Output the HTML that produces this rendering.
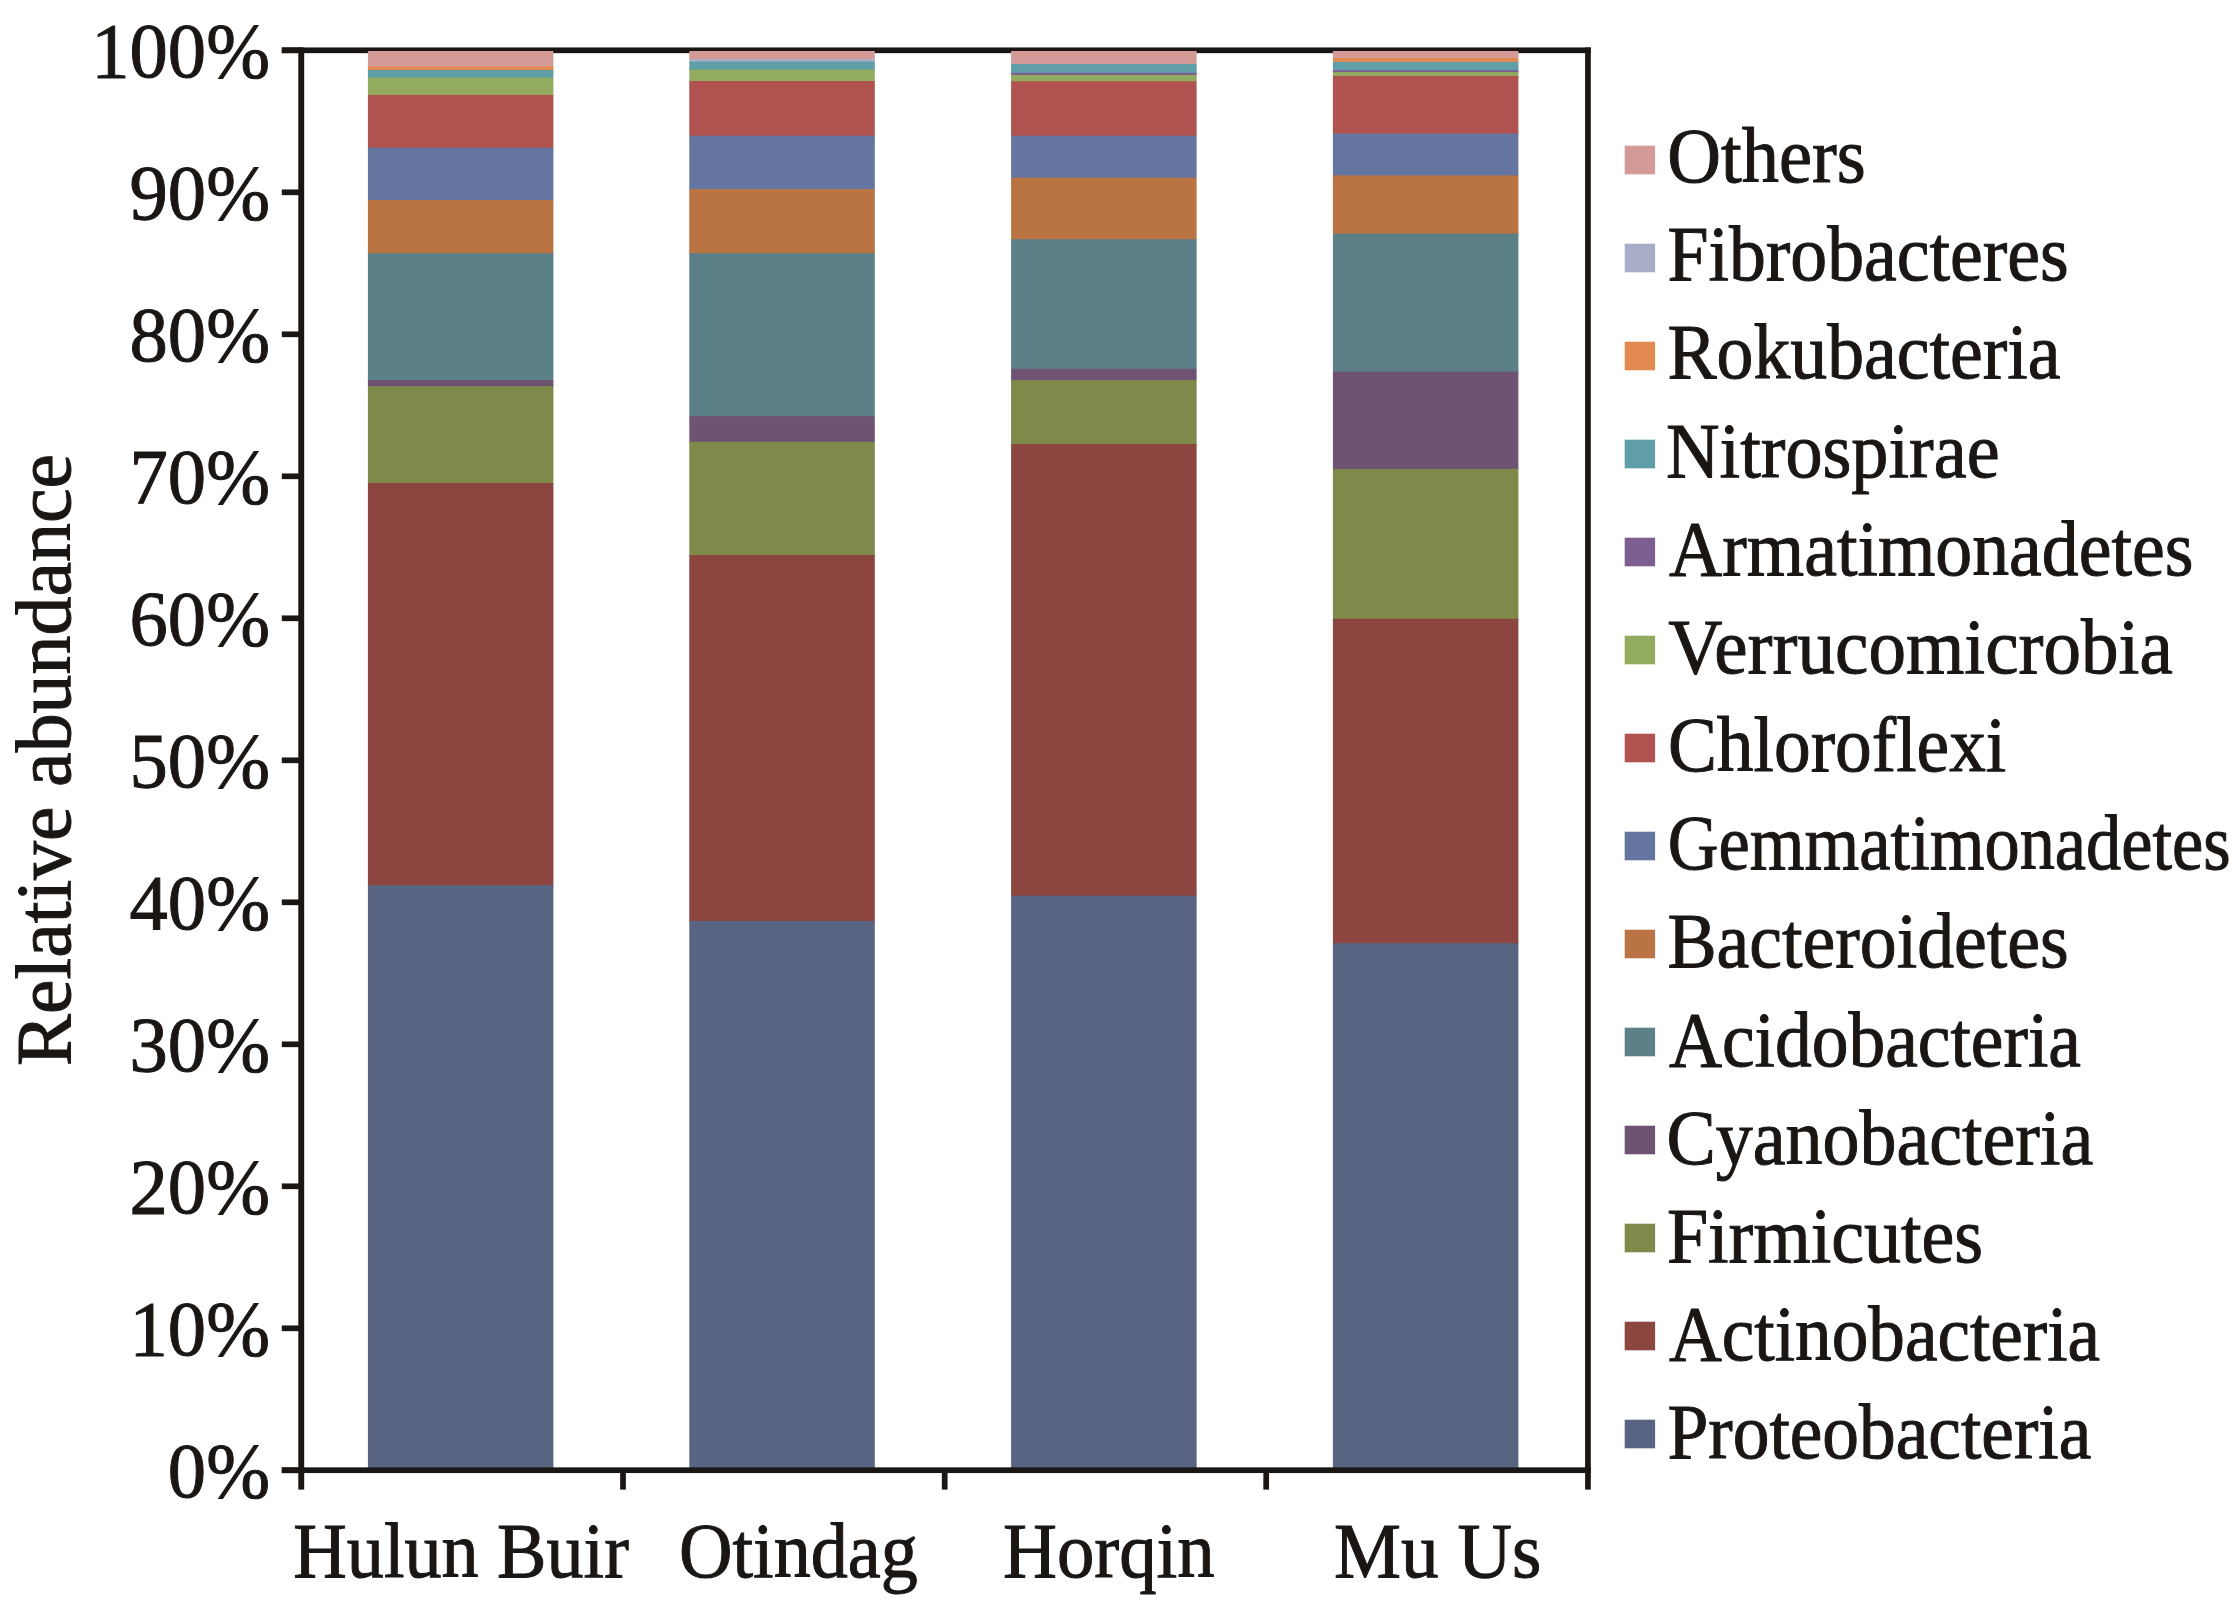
<!DOCTYPE html><html><head><meta charset="utf-8"><style>html,body{margin:0;padding:0;background:#fff;}body{width:2233px;height:1607px;overflow:hidden;}svg{display:block;}text{font-family:"Liberation Serif",serif;fill:#1a1614;}</style></head><body>
<svg width="2233" height="1607" viewBox="0 0 2233 1607">
<rect width="2233" height="1607" fill="#fff"/>
<rect x="281.8" y="47.45" width="1309.00" height="5.70" fill="#1a1614"/>
<rect x="367.90" y="51.00" width="185.50" height="16.50" fill="#d39a98"/>
<rect x="367.90" y="66.50" width="185.50" height="4.50" fill="#e38a52"/>
<rect x="367.90" y="70.00" width="185.50" height="8.70" fill="#5f9ea6"/>
<rect x="367.90" y="77.70" width="185.50" height="18.20" fill="#93ab5e"/>
<rect x="367.90" y="94.90" width="185.50" height="53.80" fill="#b05350"/>
<rect x="367.90" y="147.70" width="185.50" height="53.30" fill="#64759f"/>
<rect x="367.90" y="200.00" width="185.50" height="54.20" fill="#ba7443"/>
<rect x="367.90" y="253.20" width="185.50" height="127.90" fill="#5b8088"/>
<rect x="367.90" y="380.10" width="185.50" height="7.10" fill="#6e5372"/>
<rect x="367.90" y="386.20" width="185.50" height="97.80" fill="#7f8a4a"/>
<rect x="367.90" y="483.00" width="185.50" height="403.10" fill="#8c453f"/>
<rect x="367.90" y="885.10" width="185.50" height="585.10" fill="#586482"/>
<rect x="689.30" y="51.00" width="185.50" height="9.00" fill="#d39a98"/>
<rect x="689.30" y="59.00" width="185.50" height="3.70" fill="#a9adc7"/>
<rect x="689.30" y="61.70" width="185.50" height="9.00" fill="#5f9ea6"/>
<rect x="689.30" y="69.70" width="185.50" height="12.30" fill="#93ab5e"/>
<rect x="689.30" y="81.00" width="185.50" height="55.70" fill="#b05350"/>
<rect x="689.30" y="135.70" width="185.50" height="54.30" fill="#64759f"/>
<rect x="689.30" y="189.00" width="185.50" height="65.20" fill="#ba7443"/>
<rect x="689.30" y="253.20" width="185.50" height="164.00" fill="#5b8088"/>
<rect x="689.30" y="416.20" width="185.50" height="26.60" fill="#6e5372"/>
<rect x="689.30" y="441.80" width="185.50" height="114.20" fill="#7f8a4a"/>
<rect x="689.30" y="555.00" width="185.50" height="366.90" fill="#8c453f"/>
<rect x="689.30" y="920.90" width="185.50" height="549.30" fill="#586482"/>
<rect x="1011.10" y="51.00" width="185.50" height="13.90" fill="#d39a98"/>
<rect x="1011.10" y="63.90" width="185.50" height="9.90" fill="#5f9ea6"/>
<rect x="1011.10" y="72.80" width="185.50" height="3.20" fill="#7c5e93"/>
<rect x="1011.10" y="75.00" width="185.50" height="7.20" fill="#93ab5e"/>
<rect x="1011.10" y="81.20" width="185.50" height="55.50" fill="#b05350"/>
<rect x="1011.10" y="135.70" width="185.50" height="43.00" fill="#64759f"/>
<rect x="1011.10" y="177.70" width="185.50" height="62.50" fill="#ba7443"/>
<rect x="1011.10" y="239.20" width="185.50" height="130.60" fill="#5b8088"/>
<rect x="1011.10" y="368.80" width="185.50" height="12.30" fill="#6e5372"/>
<rect x="1011.10" y="380.10" width="185.50" height="64.90" fill="#7f8a4a"/>
<rect x="1011.10" y="444.00" width="185.50" height="452.60" fill="#8c453f"/>
<rect x="1011.10" y="895.60" width="185.50" height="574.60" fill="#586482"/>
<rect x="1332.90" y="51.00" width="185.50" height="8.00" fill="#d39a98"/>
<rect x="1332.90" y="58.00" width="185.50" height="4.90" fill="#e38a52"/>
<rect x="1332.90" y="61.90" width="185.50" height="9.30" fill="#5f9ea6"/>
<rect x="1332.90" y="70.20" width="185.50" height="2.90" fill="#7c5e93"/>
<rect x="1332.90" y="72.10" width="185.50" height="4.90" fill="#93ab5e"/>
<rect x="1332.90" y="76.00" width="185.50" height="58.50" fill="#b05350"/>
<rect x="1332.90" y="133.50" width="185.50" height="42.90" fill="#64759f"/>
<rect x="1332.90" y="175.40" width="185.50" height="59.20" fill="#ba7443"/>
<rect x="1332.90" y="233.60" width="185.50" height="139.10" fill="#5b8088"/>
<rect x="1332.90" y="371.70" width="185.50" height="98.20" fill="#6e5372"/>
<rect x="1332.90" y="468.90" width="185.50" height="150.90" fill="#7f8a4a"/>
<rect x="1332.90" y="618.80" width="185.50" height="325.40" fill="#8c453f"/>
<rect x="1332.90" y="943.20" width="185.50" height="527.00" fill="#586482"/>
<rect x="298.3" y="47.5" width="5.9" height="1442.10" fill="#1a1614"/>
<rect x="1585.1" y="47.5" width="5.7" height="1442.10" fill="#1a1614"/>
<rect x="281.8" y="1467.35" width="1309.00" height="5.70" fill="#1a1614"/>
<rect x="281.8" y="47.45" width="20" height="5.70" fill="#1a1614"/>
<rect x="281.8" y="189.45" width="20" height="5.70" fill="#1a1614"/>
<rect x="281.8" y="331.45" width="20" height="5.70" fill="#1a1614"/>
<rect x="281.8" y="473.45" width="20" height="5.70" fill="#1a1614"/>
<rect x="281.8" y="615.45" width="20" height="5.70" fill="#1a1614"/>
<rect x="281.8" y="757.45" width="20" height="5.70" fill="#1a1614"/>
<rect x="281.8" y="899.45" width="20" height="5.70" fill="#1a1614"/>
<rect x="281.8" y="1041.45" width="20" height="5.70" fill="#1a1614"/>
<rect x="281.8" y="1183.45" width="20" height="5.70" fill="#1a1614"/>
<rect x="281.8" y="1325.45" width="20" height="5.70" fill="#1a1614"/>
<rect x="281.8" y="1467.45" width="20" height="5.70" fill="#1a1614"/>
<rect x="620.15" y="1470" width="5.7" height="19.6" fill="#1a1614"/>
<rect x="941.85" y="1470" width="5.7" height="19.6" fill="#1a1614"/>
<rect x="1263.35" y="1470" width="5.7" height="19.6" fill="#1a1614"/>
<g stroke="#1a1614" stroke-width="1.0">
<text transform="translate(270,77.10) scale(0.974,1)" font-size="78.7" text-anchor="end">100%</text>
<text transform="translate(270,219.10) scale(0.974,1)" font-size="78.7" text-anchor="end">90%</text>
<text transform="translate(270,361.10) scale(0.974,1)" font-size="78.7" text-anchor="end">80%</text>
<text transform="translate(270,503.10) scale(0.974,1)" font-size="78.7" text-anchor="end">70%</text>
<text transform="translate(270,645.10) scale(0.974,1)" font-size="78.7" text-anchor="end">60%</text>
<text transform="translate(270,787.10) scale(0.974,1)" font-size="78.7" text-anchor="end">50%</text>
<text transform="translate(270,929.10) scale(0.974,1)" font-size="78.7" text-anchor="end">40%</text>
<text transform="translate(270,1071.10) scale(0.974,1)" font-size="78.7" text-anchor="end">30%</text>
<text transform="translate(270,1213.10) scale(0.974,1)" font-size="78.7" text-anchor="end">20%</text>
<text transform="translate(270,1355.10) scale(0.974,1)" font-size="78.7" text-anchor="end">10%</text>
<text transform="translate(270,1497.10) scale(0.974,1)" font-size="78.7" text-anchor="end">0%</text>
<text transform="translate(293.30,1577.3) scale(0.954,1)" font-size="77.7">Hulun Buir</text>
<text transform="translate(679.00,1577.3) scale(0.954,1)" font-size="77.7">Otindag</text>
<text transform="translate(1003.00,1577.3) scale(0.962,1)" font-size="77.7">Horqin</text>
<text transform="translate(1334.10,1577.3) scale(0.970,1)" font-size="77.7">Mu Us</text>
<text transform="translate(69.9,1065.9) rotate(-90) scale(0.986,1)" font-size="79">Relative abundance</text>
<rect x="1624.7" y="145.70" width="30.4" height="28.6" fill="#d39a98" stroke="none"/>
<text transform="translate(1667.28,182.00) scale(0.9582,1)" font-size="77.7">Others</text>
<rect x="1624.7" y="243.70" width="30.4" height="28.6" fill="#a9adc7" stroke="none"/>
<text transform="translate(1667.41,280.18) scale(0.9492,1)" font-size="77.7">Fibrobacteres</text>
<rect x="1624.7" y="341.70" width="30.4" height="28.6" fill="#e38a52" stroke="none"/>
<text transform="translate(1667.41,378.36) scale(0.9492,1)" font-size="77.7">Rokubacteria</text>
<rect x="1624.7" y="439.70" width="30.4" height="28.6" fill="#5f9ea6" stroke="none"/>
<text transform="translate(1665.99,476.54) scale(0.9546,1)" font-size="77.7">Nitrospirae</text>
<rect x="1624.7" y="537.70" width="30.4" height="28.6" fill="#7c5e93" stroke="none"/>
<text transform="translate(1668.90,574.72) scale(0.9498,1)" font-size="77.7">Armatimonadetes</text>
<rect x="1624.7" y="635.70" width="30.4" height="28.6" fill="#93ab5e" stroke="none"/>
<text transform="translate(1668.29,672.90) scale(0.9665,1)" font-size="77.7">Verrucomicrobia</text>
<rect x="1624.7" y="733.70" width="30.4" height="28.6" fill="#b05350" stroke="none"/>
<text transform="translate(1667.93,771.08) scale(0.9445,1)" font-size="77.7">Chloroflexi</text>
<rect x="1624.7" y="831.70" width="30.4" height="28.6" fill="#64759f" stroke="none"/>
<text transform="translate(1667.77,869.26) scale(0.9062,1)" font-size="77.7">Gemmatimonadetes</text>
<rect x="1624.7" y="929.70" width="30.4" height="28.6" fill="#ba7443" stroke="none"/>
<text transform="translate(1667.41,967.44) scale(0.9492,1)" font-size="77.7">Bacteroidetes</text>
<rect x="1624.7" y="1027.70" width="30.4" height="28.6" fill="#5b8088" stroke="none"/>
<text transform="translate(1668.90,1065.62) scale(0.9459,1)" font-size="77.7">Acidobacteria</text>
<rect x="1624.7" y="1125.70" width="30.4" height="28.6" fill="#6e5372" stroke="none"/>
<text transform="translate(1666.40,1163.80) scale(0.9517,1)" font-size="77.7">Cyanobacteria</text>
<rect x="1624.7" y="1223.70" width="30.4" height="28.6" fill="#7f8a4a" stroke="none"/>
<text transform="translate(1666.90,1261.98) scale(0.9517,1)" font-size="77.7">Firmicutes</text>
<rect x="1624.7" y="1321.70" width="30.4" height="28.6" fill="#8c453f" stroke="none"/>
<text transform="translate(1668.91,1360.16) scale(0.9429,1)" font-size="77.7">Actinobacteria</text>
<rect x="1624.7" y="1419.70" width="30.4" height="28.6" fill="#586482" stroke="none"/>
<text transform="translate(1667.42,1458.34) scale(0.9449,1)" font-size="77.7">Proteobacteria</text>
</g>
</svg></body></html>
